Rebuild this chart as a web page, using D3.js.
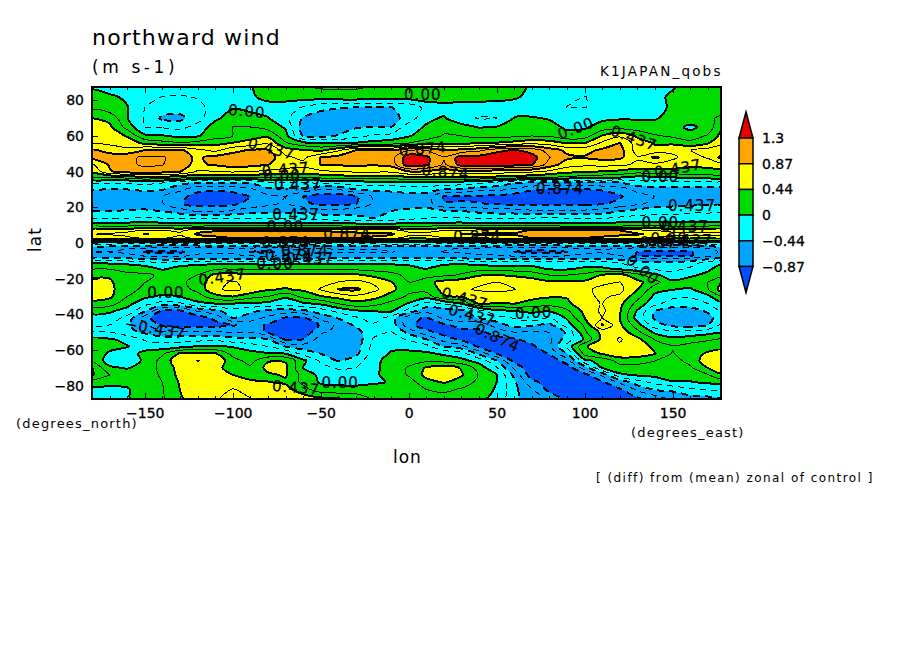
<!DOCTYPE html>
<html>
<head>
<meta charset="utf-8">
<script src="https://cdn.jsdelivr.net/npm/d3@7"></script>
<style>
body { margin: 0; background: #fff; }
svg { display: block; }
text { font-family: "DejaVu Sans", sans-serif; fill: #000; }
.tick text { font-size: 14px; stroke: #000; stroke-width: 0.3px; }
.tick line { stroke: #000; stroke-width: 1px; shape-rendering: crispEdges; }
.domain { display: none; }
</style>
</head>
<body>
<svg width="904" height="654"></svg>
<script>
const lons = [-180,-170,-160,-150,-140,-130,-120,-110,-100,-90,-80,-70,-60,-50,-40,-30,-20,-10,0,10,20,30,40,50,60,70,80,90,100,110,120,130,140,150,160,170,177.5];
const lats = [87.5,82,76,70,65,60,56,52,48,44,40,37,34,30,26,22,18,14,11,9,7,5,3,1,-1,-3,-5,-7,-9,-11,-14,-18,-22,-26,-30,-34,-38,-42,-46,-50,-54,-58,-62,-66,-70,-74,-78,-82,-87.5];

// northward wind difference, hundredths of m/s, one row per lat
const windRows = [
[-3,-8,-10,-10,-12,-12,-10,-10,-8,-2,8,12,20,24,25,24,20,18,15,14,14,12,12,12,6,-3,-10,-14,-18,-15,-12,-8,-3,-1,4,8,10],
[8,3,-3,-18,-22,-24,-20,-12,-6,-3,6,8,10,12,14,15,12,10,12,12,10,10,10,8,3,-6,-12,-20,-22,-20,-15,-8,-3,2,10,14,15],
[14,8,1,-22,-30,-34,-28,-14,-2,-6,-8,-10,-24,-38,-42,-44,-44,-44,-40,-14,-8,-10,-12,-12,-10,-12,-16,-22,-22,-20,-18,-12,-6,3,10,12,10],
[44,38,1,-24,-48,-50,-30,-5,12,8,1,-15,-46,-55,-58,-58,-58,-52,-35,-4,2,-14,-24,-22,1,2,-2,-14,-10,-4,-2,-2,-1,4,12,18,25],
[60,48,14,-22,-24,-28,-14,10,22,22,14,-3,-55,-55,-55,-46,-44,-44,-8,2,14,8,-1,1,6,10,8,-4,-3,8,12,10,4,8,-5,8,40],
[65,58,42,5,2,-5,-2,12,22,35,40,8,-46,-48,-42,-28,-18,-14,-2,12,24,22,15,14,18,22,20,8,12,46,62,40,25,18,10,25,50],
[62,60,55,40,30,25,30,38,45,52,62,25,8,0,-2,2,8,12,22,32,40,40,42,46,52,60,55,42,44,70,88,55,42,40,30,42,60],
[90,82,72,88,92,92,72,60,80,90,90,55,46,40,62,88,92,88,110,110,90,95,105,125,133,122,100,82,80,92,96,55,50,60,65,75,75],
[90,95,105,112,112,95,84,95,100,108,100,70,60,88,96,105,100,100,145,135,112,140,140,145,148,140,110,92,90,95,92,68,92,70,55,68,92],
[62,90,105,112,110,92,84,90,98,95,88,78,72,88,90,92,90,95,145,135,105,140,142,142,140,132,100,75,70,72,70,62,60,55,50,50,55],
[45,85,96,100,96,88,62,65,68,65,60,55,55,60,65,68,68,68,85,84,78,80,78,76,72,68,60,50,46,42,38,30,35,36,34,36,36],
[20,25,32,44,40,35,28,28,28,28,26,25,26,30,34,36,36,36,42,44,44,44,42,40,36,32,25,18,14,10,5,-4,-2,2,8,10,12],
[-18,-18,-18,-15,-20,-35,-42,-42,-42,-40,-22,-20,-20,-16,-12,-8,-6,-6,-5,-3,-3,-8,-12,-25,-40,-44,-46,-46,-46,-44,-44,-30,-30,-30,-30,-30,-30],
[-46,-46,-44,-40,-42,-60,-82,-85,-82,-70,-50,-50,-52,-65,-65,-44,-40,-38,-36,-36,-46,-48,-60,-60,-70,-85,-88,-88,-88,-86,-78,-58,-52,-52,-52,-52,-52],
[-58,-60,-62,-60,-65,-82,-95,-98,-96,-88,-72,-65,-88,-100,-100,-92,-62,-58,-52,-52,-90,-90,-92,-95,-100,-102,-102,-100,-98,-96,-90,-75,-65,-60,-60,-62,-62],
[-62,-60,-60,-58,-64,-85,-96,-97,-92,-80,-70,-62,-80,-95,-96,-88,-62,-58,-56,-54,-86,-86,-86,-90,-95,-95,-95,-94,-92,-90,-80,-70,-58,-52,-50,-48,-48],
[-46,-44,-42,-40,-45,-55,-70,-70,-62,-54,-52,-52,-50,-55,-56,-50,-48,-44,-38,-36,-42,-44,-50,-55,-55,-62,-62,-62,-62,-55,-45,-36,-30,-30,-26,-26,-28],
[-28,-26,-22,-20,-22,-25,-26,-26,-24,-25,-22,-25,-28,-32,-36,-40,-44,-38,-30,-22,-20,-20,-24,-24,-24,-22,-20,-22,-24,-24,-18,-14,-14,-14,-12,-12,-12],
[2,2,4,5,4,4,3,4,4,4,4,3,2,1,0,-1,-3,-2,2,3,3,4,2,2,2,2,3,2,2,2,4,4,4,4,4,4,4],
[26,26,28,32,30,30,28,30,30,32,32,30,30,30,30,28,24,26,28,28,30,30,30,30,30,30,30,28,26,26,28,30,30,28,28,28,28],
[56,56,58,70,68,60,82,86,86,86,86,86,86,86,78,78,78,78,58,58,66,68,72,74,76,92,88,88,88,88,88,74,66,58,58,56,56],
[65,68,75,88,85,72,90,92,94,95,98,100,104,105,102,95,92,90,75,72,78,88,90,92,92,100,104,102,100,96,92,90,82,75,75,72,70],
[55,55,60,75,75,55,80,85,88,88,90,92,95,95,92,88,85,80,55,55,66,68,70,72,74,90,92,90,88,84,80,74,68,55,55,52,50],
[8,8,10,14,14,10,12,14,14,14,15,16,16,16,16,14,12,12,8,8,12,12,14,14,15,16,16,14,12,10,8,10,12,8,8,8,8],
[-30,-30,-32,-36,-38,-38,-36,-34,-34,-34,-36,-36,-34,-34,-32,-32,-32,-30,-30,-30,-32,-34,-36,-36,-38,-40,-38,-36,-34,-32,-34,-36,-38,-38,-36,-32,-30],
[-62,-62,-64,-68,-72,-74,-74,-70,-68,-68,-72,-72,-68,-66,-64,-64,-64,-62,-62,-62,-64,-66,-68,-70,-72,-76,-74,-70,-66,-64,-66,-70,-74,-74,-72,-66,-62],
[-66,-66,-72,-90,-92,-92,-72,-68,-70,-88,-92,-80,-72,-70,-68,-68,-68,-66,-64,-64,-66,-68,-72,-76,-88,-95,-95,-88,-70,-68,-72,-88,-92,-92,-90,-70,-64],
[-54,-54,-58,-70,-74,-72,-62,-60,-62,-68,-70,-66,-62,-60,-58,-58,-58,-56,-56,-56,-58,-60,-62,-64,-70,-72,-72,-68,-60,-60,-66,-90,-94,-94,-90,-72,-56],
[-40,-38,-40,-44,-48,-46,-44,-42,-44,-46,-48,-46,-44,-42,-40,-40,-40,-38,-36,-36,-38,-40,-42,-44,-46,-48,-48,-46,-42,-44,-48,-56,-62,-62,-58,-46,-38],
[-5,-4,-6,-14,-20,-12,-8,-6,-6,-6,-8,-6,-5,-4,-3,-3,-4,-4,-4,-6,-6,-6,-8,-10,-10,-10,-14,-16,-12,-14,-22,-36,-42,-42,-32,-14,-6],
[16,18,12,8,-6,6,10,14,16,14,12,14,14,14,14,12,10,8,4,-2,8,12,10,6,8,6,-5,-6,2,2,-12,-22,-30,-30,-20,-6,8],
[36,40,28,26,18,15,22,50,52,50,50,50,50,48,48,48,38,30,15,12,18,24,42,44,40,34,22,22,28,46,52,30,5,-12,-4,6,12],
[50,48,26,22,18,16,32,58,68,58,52,50,50,56,66,72,62,45,22,36,52,58,62,66,62,56,48,48,48,62,66,50,30,4,12,22,42],
[52,50,28,18,12,12,28,62,70,60,46,42,48,68,88,92,72,50,28,30,50,62,68,72,66,56,46,48,62,70,72,44,8,1,-3,20,52],
[52,48,22,5,-4,0,12,36,44,30,22,3,28,42,52,60,52,35,18,10,42,46,54,54,54,50,46,46,62,68,62,30,-6,-15,-18,-6,22],
[35,32,8,-15,-30,-25,-5,0,0,-4,-6,-10,-4,4,22,35,30,15,-2,-30,-20,0,46,42,44,36,30,38,62,66,50,14,-15,-35,-35,-22,-8],
[6,4,-8,-40,-92,-90,-62,-50,-30,-38,-50,-52,-48,-32,-15,-2,1,4,-30,-58,-55,-50,-30,-5,0,3,3,18,50,70,46,-2,-44,-52,-52,-40,-22],
[-8,-10,-28,-78,-105,-108,-100,-82,-42,-55,-70,-90,-92,-58,-42,-25,-12,-30,-80,-90,-60,-52,-42,-30,-20,-8,-25,3,44,66,44,-10,-48,-60,-62,-52,-30],
[-22,-22,-40,-60,-92,-100,-95,-95,-90,-78,-90,-105,-105,-85,-58,-40,-25,-30,-80,-100,-92,-78,-80,-55,-35,-40,-50,-10,25,90,48,10,-35,-50,-55,-45,-22],
[-24,-22,-38,-48,-62,-60,-62,-62,-68,-66,-92,-105,-105,-68,-62,-52,-28,-20,-50,-80,-98,-95,-92,-78,-65,-70,-65,-40,18,50,58,28,-5,-15,-14,-8,-4],
[6,2,-5,-25,-32,-32,-30,-28,-35,-38,-42,-92,-88,-55,-62,-58,-20,-12,-25,-44,-75,-92,-100,-95,-90,-78,-70,-32,3,50,68,50,20,6,12,18,24],
[14,10,1,-8,-12,-8,2,3,-2,-12,-22,-45,-55,-48,-60,-55,-14,-4,-8,-14,-45,-58,-92,-105,-100,-92,-70,-15,40,62,62,62,36,24,30,36,38],
[22,-5,-8,5,18,46,50,46,14,8,2,0,-30,-44,-55,-50,-12,2,6,4,-4,-12,-50,-88,-105,-105,-85,-45,30,46,60,58,45,20,36,46,50],
[18,-10,-14,4,30,60,66,62,30,14,42,42,6,-26,-46,-32,-6,8,14,18,14,6,-8,-42,-95,-105,-105,-75,-5,8,30,28,22,12,30,56,58],
[44,4,-2,10,28,52,58,52,32,26,50,48,0,-14,-25,-22,-6,10,24,46,56,42,12,-20,-70,-105,-108,-100,-55,2,14,16,16,14,18,44,56],
[46,22,14,8,26,50,62,60,44,34,40,46,14,-6,-10,-8,-4,8,24,50,60,46,20,2,-50,-100,-105,-108,-95,-60,-4,3,6,8,8,20,40],
[8,10,6,4,22,46,52,58,54,48,44,40,16,-3,-5,-4,-2,1,12,36,46,34,16,0,-40,-80,-100,-108,-108,-90,-60,-30,-15,-1,-1,4,6],
[-4,-8,-2,12,20,44,52,60,66,62,58,52,30,8,6,4,6,8,12,22,26,20,10,-2,-38,-65,-95,-105,-108,-108,-90,-60,-40,-38,-25,-20,-18],
[-12,-16,-2,10,18,40,56,64,70,66,62,62,56,50,46,42,18,8,6,10,14,10,4,-6,-40,-55,-70,-95,-108,-110,-108,-92,-80,-62,-55,-52,-50]
];

const fillLevels = [-87.4,-43.7,0,43.7,87.4,131];
const fillColors = ['#00a5ff','#00ffff','#00dc00','#ffff00','#ffa500','#e60000'];
const lowColor = '#0050ff';
const thinLevels = [-65.5,-21.8,21.8,65.5,109];

const barLabels = ['1.3','0.87','0.44','0','\u22120.44','\u22120.87'];
const barColors = ['#e60000','#ffa500','#ffff00','#00dc00','#00ffff','#00a5ff','#0050ff'];

const labelTexts = ['0.00','0.00','0.437','0.874','0.874','0.00','0.437','0.437','0.00','0.437','0.00','0.437','0.874','0.437','0.437','0.00','0.00','0.437','0.874','0.874','0.874','0.874','0.874','0.437','0.00','0.00','0.437','0.874','0.00','0.437','0.00','\u22120.437','0.437','0.437','0.00','0.874','0.437','0.00'];
const labelLons = [-92,8,-78,8,21,95,128,153,143,-70,-72,-63,86,161,-64,-70,143,157,-35,39,-70,-59,-68,-56,-76,148,159,145,133,-106,-138,-144,32,36,71,50.5,-64,-39];
const labelLats = [74,83.5,53,53,40,64.5,59,42,37,41.5,38,33,30.5,21,16,9,11.5,9,5,3.5,0,-4,-7,-9,-11.5,2.5,1.5,0,-15,-19,-28,-48,-31,-40.5,-39,-53,-81,-78.5];
const labelAngles = [5,0,15,-5,5,-20,20,-10,0,-5,0,0,0,0,0,0,0,0,0,0,0,0,0,0,0,0,0,0,40,-8,0,10,15,15,-3,25,5,0];

const svg = d3.select('svg');
const plotL = 92, plotR = 721, plotT = 87, plotB = 399;

const x = d3.scaleLinear().domain([-180,177.5]).range([plotL,plotR]);
const y = d3.scaleLinear().domain([87.5,-87.5]).range([plotT,plotB]);
const colToLon = d3.scaleLinear().domain(d3.range(lons.length)).range(lons).clamp(true);
const rowToLat = d3.scaleLinear().domain(d3.range(lats.length)).range(lats).clamp(true);

svg.append('clipPath').attr('id','plot').append('rect')
  .attr('x',plotL).attr('y',plotT).attr('width',plotR-plotL).attr('height',plotB-plotT);

const contours = d3.contours().size([lons.length, lats.length]).smooth(true);
const flat = windRows.flat();

// d3.contours works in grid units, map those back through lon/lat
const ringLine = d3.line()
  .x(p => x(colToLon(p[0] - 0.5)))
  .y(p => y(rowToLat(p[1] - 0.5)))
  .curve(d3.curveCatmullRomClosed.alpha(0.5));
const shape = t => contours.contour(flat, t).coordinates
  .map(poly => poly.map(ring => ringLine(ring.slice(0,-1))).join('')).join('');

const field = svg.append('g').attr('clip-path','url(#plot)');
field.append('rect').attr('x',plotL).attr('y',plotT).attr('width',plotR-plotL).attr('height',plotB-plotT).attr('fill',lowColor);

field.append('g').selectAll('path').data(fillLevels).join('path')
  .attr('d', shape)
  .attr('fill', (t,i) => fillColors[i])
  .attr('fill-rule','evenodd')
  .attr('shape-rendering','crispEdges');

const lineLevels = d3.sort(fillLevels.concat(thinLevels));
field.append('g').selectAll('path').data(lineLevels).join('path')
  .attr('d', shape)
  .attr('fill','none')
  .attr('stroke','#000')
  .attr('stroke-width', t => fillLevels.includes(t) ? 2 : 1)
  .attr('stroke-dasharray', t => t < 0 ? (fillLevels.includes(t) ? '7,5' : '6,5') : null)
  .attr('shape-rendering','crispEdges');

svg.append('g').selectAll('text').data(labelTexts).join('text')
  .attr('transform', (d,i) => `translate(${x(labelLons[i])},${y(labelLats[i])}) rotate(${labelAngles[i]})`)
  .attr('text-anchor','middle')
  .attr('dy','0.36em')
  .style('font-size','15px')
  .style('letter-spacing','1px')
  .style('stroke','#000')
  .style('stroke-width','0.25px')
  .text(d => d);

// frame and ticks
svg.append('rect').attr('x',plotL).attr('y',plotT).attr('width',plotR-plotL).attr('height',plotB-plotT)
  .attr('fill','none').attr('stroke','#000').attr('stroke-width',2).attr('shape-rendering','crispEdges');

const lonMajor = [-150,-100,-50,0,50,100,150];
const lonMinor = d3.range(-170,180,10);
const latMajor = [-80,-60,-40,-20,0,20,40,60,80];
const fmt = d => String(d).replace('-','\u2212');

svg.append('g').attr('transform',`translate(0,${plotB})`)
  .call(d3.axisBottom(x).tickValues(lonMinor).tickSize(-3).tickFormat(''));
svg.append('g').attr('transform',`translate(0,${plotT})`)
  .call(d3.axisTop(x).tickValues(lonMinor).tickSize(-3).tickFormat(''));
svg.append('g').attr('transform',`translate(0,${plotT})`)
  .call(d3.axisTop(x).tickValues(lonMajor).tickSize(-6).tickFormat(''));
svg.append('g').attr('transform',`translate(0,${plotB})`)
  .call(d3.axisBottom(x).tickValues(lonMajor).tickSize(-6).tickPadding(9).tickFormat(fmt));
svg.append('g').attr('transform',`translate(${plotL},0)`)
  .call(d3.axisLeft(y).tickValues(latMajor).tickSize(-6).tickPadding(8).tickFormat(fmt));

// colour bar
const barX = 739, barW = 14, segH = 25.7, barTop = 112, tipH = 26;
const barY = d3.scaleLinear().domain([0,barLabels.length]).range([barTop+tipH, barTop+tipH+segH*barLabels.length]);
const bar = svg.append('g');
barColors.forEach((c,i) => {
  let d;
  if (i === 0) d = `M${barX},${barY(0)}L${barX+barW/2},${barTop}L${barX+barW},${barY(0)}Z`;
  else if (i === barColors.length-1) d = `M${barX},${barY(5)}L${barX+barW},${barY(5)}L${barX+barW/2},${barY(5)+tipH}Z`;
  else d = `M${barX},${barY(i-1)}H${barX+barW}V${barY(i)}H${barX}Z`;
  bar.append('path').attr('d',d).attr('fill',c).attr('stroke','#000').attr('stroke-width',1.5);
});
svg.append('g').selectAll('text').data(barLabels).join('text')
  .attr('x',762).attr('y',(d,i) => barY(i)+5)
  .style('font-size','14px').style('stroke','#000').style('stroke-width','0.3px')
  .text(d => d);

// titles
const addText = (s,px,py,size,spacing) =>
  svg.append('text').attr('x',px).attr('y',py).style('font-size',size+'px').style('letter-spacing',spacing+'px').text(s);
addText('northward wind',92,45,22,1.2);
addText('(m s-1)',92,73,17,3.6);
addText('K1JAPAN_qobs',600,76,13.5,2.2);
addText('(degrees_north)',16,428,13,1.2);
addText('(degrees_east)',631,437,13,1.2);
addText('lon',393,463,17,1);
addText('[ (diff) from (mean) zonal of control ]',596,482,12,1.45);
svg.append('text').attr('transform','translate(41,252) rotate(-90)').style('font-size','17px').style('letter-spacing','1px').text('lat');
</script>
</body>
</html>
